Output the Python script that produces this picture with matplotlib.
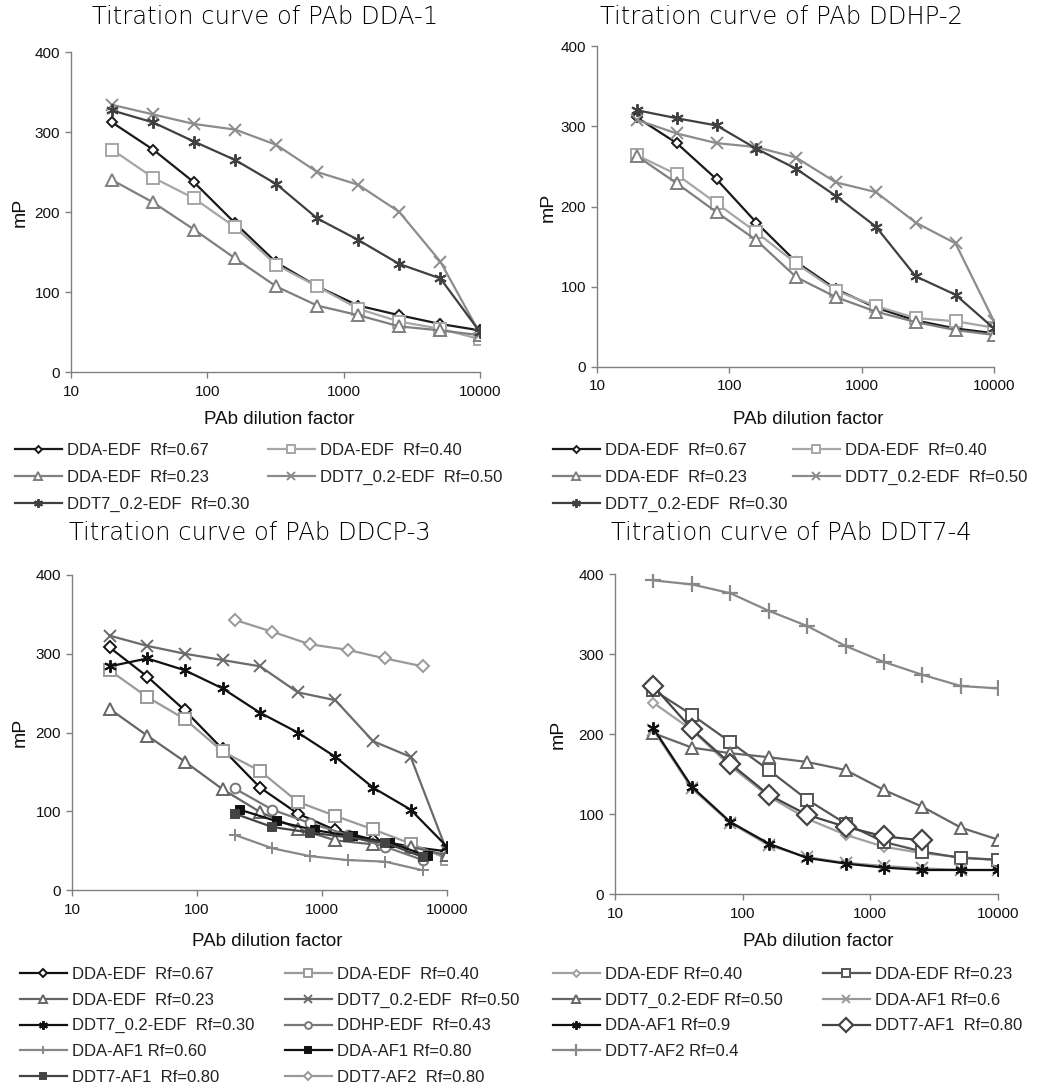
import matplotlib
matplotlib.use("Agg")
import matplotlib.pyplot as plt
from matplotlib.ticker import FixedLocator, NullLocator

W, H = 1037, 1086

# dilution factors
dilution = [20, 40, 80, 160, 320, 640, 1280, 2560, 5120, 10000]
dilution_af = [200, 400, 800, 1600, 3200, 6400]
dilution_af1 = [220, 440, 880, 1760, 3520, 7040]

# PAb DDA-1
p1_dda_067 = [312, 278, 237, 186, 137, 107, 83, 71, 60, 52]
p1_dda_040 = [278, 243, 217, 181, 134, 107, 79, 63, 54, 41]
p1_dda_023 = [240, 212, 178, 142, 107, 83, 71, 57, 52, 46]
p1_ddt_050 = [334, 322, 310, 303, 284, 250, 234, 200, 138, 48]
p1_ddt_030 = [327, 312, 288, 265, 235, 192, 165, 135, 117, 50]

# PAb DDHP-2
p2_dda_067 = [311, 279, 234, 180, 131, 97, 74, 58, 48, 42]
p2_dda_040 = [264, 240, 204, 168, 129, 95, 76, 61, 57, 49]
p2_dda_023 = [263, 229, 193, 158, 112, 87, 69, 56, 46, 40]
p2_ddt_050 = [308, 291, 279, 274, 261, 230, 218, 180, 154, 57]
p2_ddt_030 = [320, 310, 301, 272, 247, 213, 175, 113, 90, 48]

# PAb DDCP-3
p3_dda_067 = [308, 271, 228, 179, 130, 97, 76, 64, 55, 49]
p3_dda_040 = [279, 245, 217, 176, 151, 112, 94, 77, 59, 40]
p3_dda_023 = [230, 196, 163, 128, 99, 78, 63, 58, 55, 44]
p3_ddt_050 = [323, 310, 300, 292, 284, 251, 241, 189, 169, 49]
p3_ddt_030 = [284, 294, 279, 256, 225, 200, 169, 130, 102, 55]
p3_ddhp_043 = [129, 102, 85, 70, 55, 38]
p3_dda_af1_060 = [70, 53, 43, 38, 36, 25]
p3_dda_af1_080 = [102, 87, 76, 68, 60, 43]
p3_ddt7_af1_080 = [97, 80, 73, 67, 60, 42]
p3_ddt7_af2_080 = [343, 328, 312, 305, 294, 284]

# PAb DDT7-4
p4_dda_040 = [239, 205, 160, 122, 94, 74, 59, 51, 46, 42]
p4_dda_023 = [255, 224, 190, 155, 118, 88, 65, 53, 45, 43]
p4_ddt_050 = [201, 183, 176, 171, 165, 155, 130, 109, 83, 68]
p4_dda_af1_06 = [205, 132, 89, 61, 46, 39, 35, 32, 30, 30]
p4_dda_af1_09 = [207, 134, 90, 63, 45, 38, 33, 30, 30, 30]
p4_ddt7_af1 = [260, 206, 163, 124, 99, 84, 72, 67]
p4_ddt7_af2 = [392, 387, 376, 354, 335, 310, 290, 274, 260, 257]

plt.rcParams["font.family"] = ["Liberation Sans", "DejaVu Sans"]

ASTER = (6, 2, 0)


def style(color, marker, ms, fill="white", mew=1.4):
    return dict(color=color, marker=marker, markersize=ms, markerfacecolor=fill,
                markeredgecolor=color, markeredgewidth=mew, linewidth=1.6)


def make_axes(fig, left, top, right, bottom):
    ax = fig.add_axes([left / W, 1 - bottom / H, (right - left) / W, (bottom - top) / H])
    ax.set_xscale("log")
    ax.set_xlim(10, 10000)
    ax.set_ylim(0, 400)
    ax.xaxis.set_major_locator(FixedLocator([10, 100, 1000, 10000]))
    ax.xaxis.set_minor_locator(NullLocator())
    ax.set_xticklabels(["10", "100", "1000", "10000"])
    ax.set_yticks([0, 100, 200, 300, 400])
    for side in ("top", "right"):
        ax.spines[side].set_visible(False)
    for side in ("left", "bottom"):
        ax.spines[side].set_color("#808080")
        ax.spines[side].set_linewidth(1.0)
    ax.tick_params(axis="both", colors="#808080", labelcolor="#111111",
                   labelsize=11, length=4, width=1.0)
    ax.tick_params(axis="x", pad=5)
    ax.tick_params(axis="y", pad=4)
    return ax


def labels(fig, title, tx, ty, xx, xy, yx, yy):
    fig.text(tx / W, 1 - ty / H, title, ha="center", va="center", fontsize=17.5,
             family="DejaVu Sans", fontweight="light", color="#000000")
    fig.text(xx / W, 1 - xy / H, "PAb dilution factor", ha="center", va="center",
             fontsize=13.5, color="#111111")
    fig.text(yx / W, 1 - yy / H, "mP", ha="center", va="center", rotation=90,
             fontsize=14, color="#111111")


def column_legend(fig, lines, x, y, spacing):
    fig.legend(lines, [l.get_label() for l in lines], loc="upper left",
               bbox_to_anchor=(x / W, 1 - y / H), frameon=False, borderpad=0,
               borderaxespad=0, handlelength=2.8, handletextpad=0.3,
               labelspacing=spacing, fontsize=12, numpoints=1, labelcolor="#222222",
               markerscale=0.7)


fig = plt.figure(figsize=(W / 100, H / 100), dpi=100)

# ---- panel 1 ----
ax1 = make_axes(fig, 71, 52, 480, 372)
l1 = [
    ax1.plot(dilution, p1_dda_067, label="DDA-EDF  Rf=0.67", **style("#1a1a1a", "D", 5))[0],
    ax1.plot(dilution, p1_dda_040, label="DDA-EDF  Rf=0.40", **style("#a6a6a6", "s", 8))[0],
    ax1.plot(dilution, p1_dda_023, label="DDA-EDF  Rf=0.23", **style("#7f7f7f", "^", 8))[0],
    ax1.plot(dilution, p1_ddt_050, label="DDT7_0.2-EDF  Rf=0.50", **style("#8c8c8c", "x", 8))[0],
    ax1.plot(dilution, p1_ddt_030, label="DDT7_0.2-EDF  Rf=0.30", **style("#404040", ASTER, 9))[0],
]
labels(fig, "Titration curve of PAb DDA-1", 265, 17, 279, 420, 20, 212)
column_legend(fig, [l1[0], l1[2], l1[4]], 15, 443, 0.72)
column_legend(fig, [l1[1], l1[3]], 268, 443, 0.72)

# ---- panel 2 ----
ax2 = make_axes(fig, 597, 46, 994, 367)
l2 = [
    ax2.plot(dilution, p2_dda_067, label="DDA-EDF  Rf=0.67", **style("#1a1a1a", "D", 5))[0],
    ax2.plot(dilution, p2_dda_040, label="DDA-EDF  Rf=0.40", **style("#a6a6a6", "s", 8))[0],
    ax2.plot(dilution, p2_dda_023, label="DDA-EDF  Rf=0.23", **style("#7f7f7f", "^", 8))[0],
    ax2.plot(dilution, p2_ddt_050, label="DDT7_0.2-EDF  Rf=0.50", **style("#8c8c8c", "x", 8))[0],
    ax2.plot(dilution, p2_ddt_030, label="DDT7_0.2-EDF  Rf=0.30", **style("#404040", ASTER, 9))[0],
]
labels(fig, "Titration curve of PAb DDHP-2", 781, 17, 808, 420, 548, 207)
column_legend(fig, [l2[0], l2[2], l2[4]], 553, 443, 0.72)
column_legend(fig, [l2[1], l2[3]], 793, 443, 0.72)

# ---- panel 3 ----
ax3 = make_axes(fig, 72, 575, 447, 890)
l3 = [
    ax3.plot(dilution, p3_dda_067, label="DDA-EDF  Rf=0.67", **style("#111111", "D", 6))[0],
    ax3.plot(dilution, p3_dda_040, label="DDA-EDF  Rf=0.40", **style("#9a9a9a", "s", 8))[0],
    ax3.plot(dilution, p3_dda_023, label="DDA-EDF  Rf=0.23", **style("#666666", "^", 8))[0],
    ax3.plot(dilution, p3_ddt_050, label="DDT7_0.2-EDF  Rf=0.50", **style("#6a6a6a", "x", 8))[0],
    ax3.plot(dilution, p3_ddt_030, label="DDT7_0.2-EDF  Rf=0.30", **style("#111111", ASTER, 9))[0],
    ax3.plot(dilution_af, p3_ddhp_043, label="DDHP-EDF  Rf=0.43", **style("#777777", "o", 7))[0],
    ax3.plot(dilution_af, p3_dda_af1_060, label="DDA-AF1 Rf=0.60", **style("#888888", "+", 8))[0],
    ax3.plot(dilution_af1, p3_dda_af1_080, label="DDA-AF1 Rf=0.80",
             **style("#111111", "s", 5.5, fill="#111111"))[0],
    ax3.plot(dilution_af, p3_ddt7_af1_080, label="DDT7-AF1  Rf=0.80",
             **style("#444444", "s", 6, fill="#444444"))[0],
    ax3.plot(dilution_af, p3_ddt7_af2_080, label="DDT7-AF2  Rf=0.80", **style("#999999", "D", 6))[0],
]
labels(fig, "Titration curve of PAb DDCP-3", 250, 533, 267, 942, 20, 732)
column_legend(fig, l3[0::2], 20, 967, 0.64)
column_legend(fig, l3[1::2], 285, 967, 0.64)

# ---- panel 4 ----
ax4 = make_axes(fig, 615, 574, 998, 894)
l4 = [
    ax4.plot(dilution, p4_dda_040, label="DDA-EDF Rf=0.40", **style("#a0a0a0", "D", 5))[0],
    ax4.plot(dilution, p4_dda_023, label="DDA-EDF Rf=0.23", **style("#555555", "s", 8))[0],
    ax4.plot(dilution, p4_ddt_050, label="DDT7_0.2-EDF Rf=0.50", **style("#666666", "^", 8))[0],
    ax4.plot(dilution, p4_dda_af1_06, label="DDA-AF1 Rf=0.6", **style("#999999", "x", 8))[0],
    ax4.plot(dilution, p4_dda_af1_09, label="DDA-AF1 Rf=0.9", **style("#111111", ASTER, 9))[0],
    ax4.plot(dilution[:len(p4_ddt7_af1)], p4_ddt7_af1, label="DDT7-AF1  Rf=0.80",
             **style("#444444", "D", 10, mew=1.6))[0],
    ax4.plot(dilution, p4_ddt7_af2, label="DDT7-AF2 Rf=0.4", **style("#888888", "+", 12, mew=1.6))[0],
]
labels(fig, "Titration curve of PAb DDT7-4", 791, 533, 818, 942, 558, 734)
column_legend(fig, l4[0::2], 553, 967, 0.64)
column_legend(fig, l4[1::2], 823, 967, 0.64)

fig.savefig("out.png", dpi=100)
